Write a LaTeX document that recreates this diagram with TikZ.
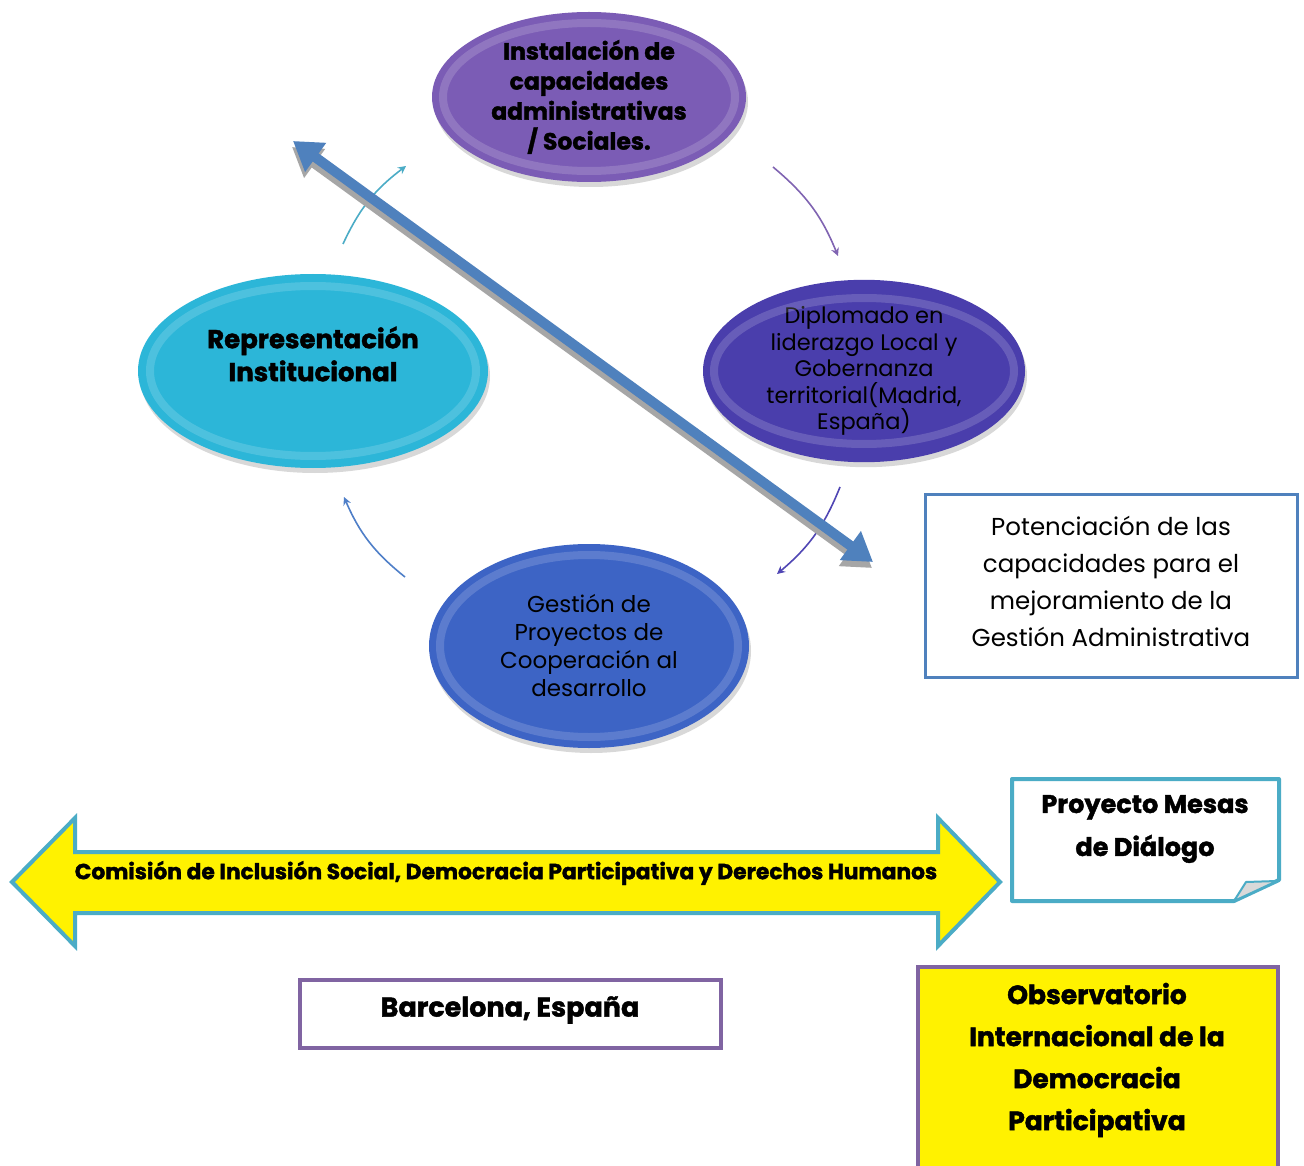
\documentclass[tikz,border=0pt]{standalone}
\usepackage{fontspec}
\setmainfont{Poppins}
\newfontfamily\heavy[BoldFeatures={FakeBold=1.6}]{Poppins}
\usetikzlibrary{arrows.meta,shadows,shapes.geometric}
\definecolor{purpT}{RGB}{123,92,181}
\definecolor{purpR}{RGB}{74,62,172}
\definecolor{cyanL}{RGB}{44,182,216}
\definecolor{blueB}{RGB}{61,100,197}
\definecolor{arrC}{RGB}{75,172,198}
\definecolor{arrP}{RGB}{128,100,178}
\definecolor{arrD}{RGB}{80,70,180}
\definecolor{arrB}{RGB}{79,127,200}
\definecolor{bigA}{RGB}{79,129,189}
\definecolor{tealB}{RGB}{75,172,198}
\definecolor{purB}{RGB}{128,100,162}
\tikzset{
  oval/.style={ellipse, inner sep=0pt, align=center, text=black,
    drop shadow={shadow xshift=2pt, shadow yshift=-5pt, opacity=.3}},
  ring/.style={draw=white, draw opacity=.16, line width=8pt},
  curv/.style={line width=1.6pt, -{Stealth[length=8pt,width=8pt]}},
  bigarrow/.style={line width=10pt, {Triangle[length=28pt,width=34pt]}-{Triangle[length=28pt,width=34pt]}},
  boxtext/.style={align=center, text=black}
}
\begin{document}
\begin{tikzpicture}[x=1pt,y=-1pt]
\useasboundingbox[fill=white] (0,0) rectangle (1304,1166);

% ellipses
\node[oval, fill=purpT, minimum width=314pt, minimum height=170pt,
  font=\heavy\bfseries\fontsize{23.5}{30}\selectfont] (inst) at (589,97)
  {Instalación de\\capacidades\\administrativas\\/ Sociales.};
\draw[ring] (589,97) ellipse [x radius=146, y radius=74];

\node[oval, fill=purpR, minimum width=322pt, minimum height=168pt,
  font=\fontsize{22.5}{26.5}\selectfont] (dipl) at (864,371)
  {Diplomado en\\liderazgo Local y\\Gobernanza\\territorial(Madrid,\\España)};
\draw[ring] (864,371) ellipse [x radius=150, y radius=73];

\node[oval, fill=cyanL, minimum width=350pt, minimum height=194pt] (repr) at (313,371) {};
\draw[ring] (313,371) ellipse [x radius=163, y radius=85];
\node[boxtext, font=\heavy\bfseries\fontsize{26}{33}\selectfont] (reprt) at (313,354)
  {Representación\\Institucional};

\node[oval, fill=blueB, minimum width=320pt, minimum height=204pt,
  font=\fontsize{23}{28}\selectfont] (gest) at (589,646)
  {Gestión de\\Proyectos de\\Cooperación al\\desarrollo};
\draw[ring] (589,646) ellipse [x radius=149, y radius=91];

% curved arrows
\coordinate (c1s) at (343,244); \coordinate (c1e) at (406,166);
\coordinate (c2s) at (773,167); \coordinate (c2e) at (838,256);
\coordinate (c3s) at (840,487); \coordinate (c3e) at (777,574);
\coordinate (c4s) at (405,577); \coordinate (c4e) at (344,497);
\draw[curv, draw=arrC] (c1s) to[bend left=14] (c1e);
\draw[curv, draw=arrP] (c2s) to[bend left=14] (c2e);
\draw[curv, draw=arrD] (c3s) to[bend left=14] (c3e);
\draw[curv, draw=arrB] (c4s) to[bend left=14] (c4e);

% big double arrow
\coordinate (ba1) at (293,141); \coordinate (ba2) at (873,562);
\draw[bigarrow, draw=gray!70, fill=gray!70] ([shift={(-1,6)}]ba1) -- ([shift={(-1,6)}]ba2);
\draw[bigarrow, draw=bigA, fill=bigA] (ba1) -- (ba2);

% potenciacion box
\node[draw=bigA, line width=3pt, minimum width=372pt, minimum height=183pt] (pot) at (1111,585.5) {};
\node[boxtext, font=\fontsize{24.5}{37}\selectfont] (pott) at (1111,581)
  {Potenciación de las\\capacidades para el\\mejoramiento de la\\Gestión Administrativa};

% yellow double arrow
\filldraw[fill=yellow, draw=tealB, line width=4pt, line join=miter]
  (12,882) -- (75,818) -- (75,852) -- (938,852) -- (938,818) -- (1000,882)
  -- (938,946) -- (938,913) -- (75,913) -- (75,946) -- cycle;
\node[boxtext, font=\heavy\bfseries\fontsize{21.8}{24}\selectfont] (comi) at (506,873)
  {Comisión de Inclusión Social, Democracia Participativa y Derechos Humanos};

% proyecto mesas box with folded corner
\filldraw[fill=white, draw=tealB, line width=4pt, line join=round]
  (1012,779) -- (1279,779) -- (1279,880) -- (1234,901) -- (1012,901) -- cycle;
\filldraw[fill=gray!30, draw=tealB, line width=2pt, line join=round]
  (1234,901) -- (1246,882) -- (1277,881) -- cycle;
\node[boxtext, font=\heavy\bfseries\fontsize{25.5}{43}\selectfont] (mesa) at (1145,829)
  {Proyecto Mesas\\de Diálogo};

% barcelona box
\node[draw=purB, line width=4pt, minimum width=421pt, minimum height=68pt] (barc) at (510,1013.5) {};
\node[boxtext, font=\heavy\bfseries\fontsize{27}{30}\selectfont] (barct) at (510,1010)
  {Barcelona, España};

% observatorio
\filldraw[fill=yellow, draw=purB, line width=4pt] (918,967) rectangle (1278,1180);
\node[boxtext, font=\heavy\bfseries\fontsize{26.5}{42}\selectfont] (obse) at (1097,1060)
  {Observatorio\\Internacional de la\\Democracia\\Participativa};
\end{tikzpicture}
\end{document}
